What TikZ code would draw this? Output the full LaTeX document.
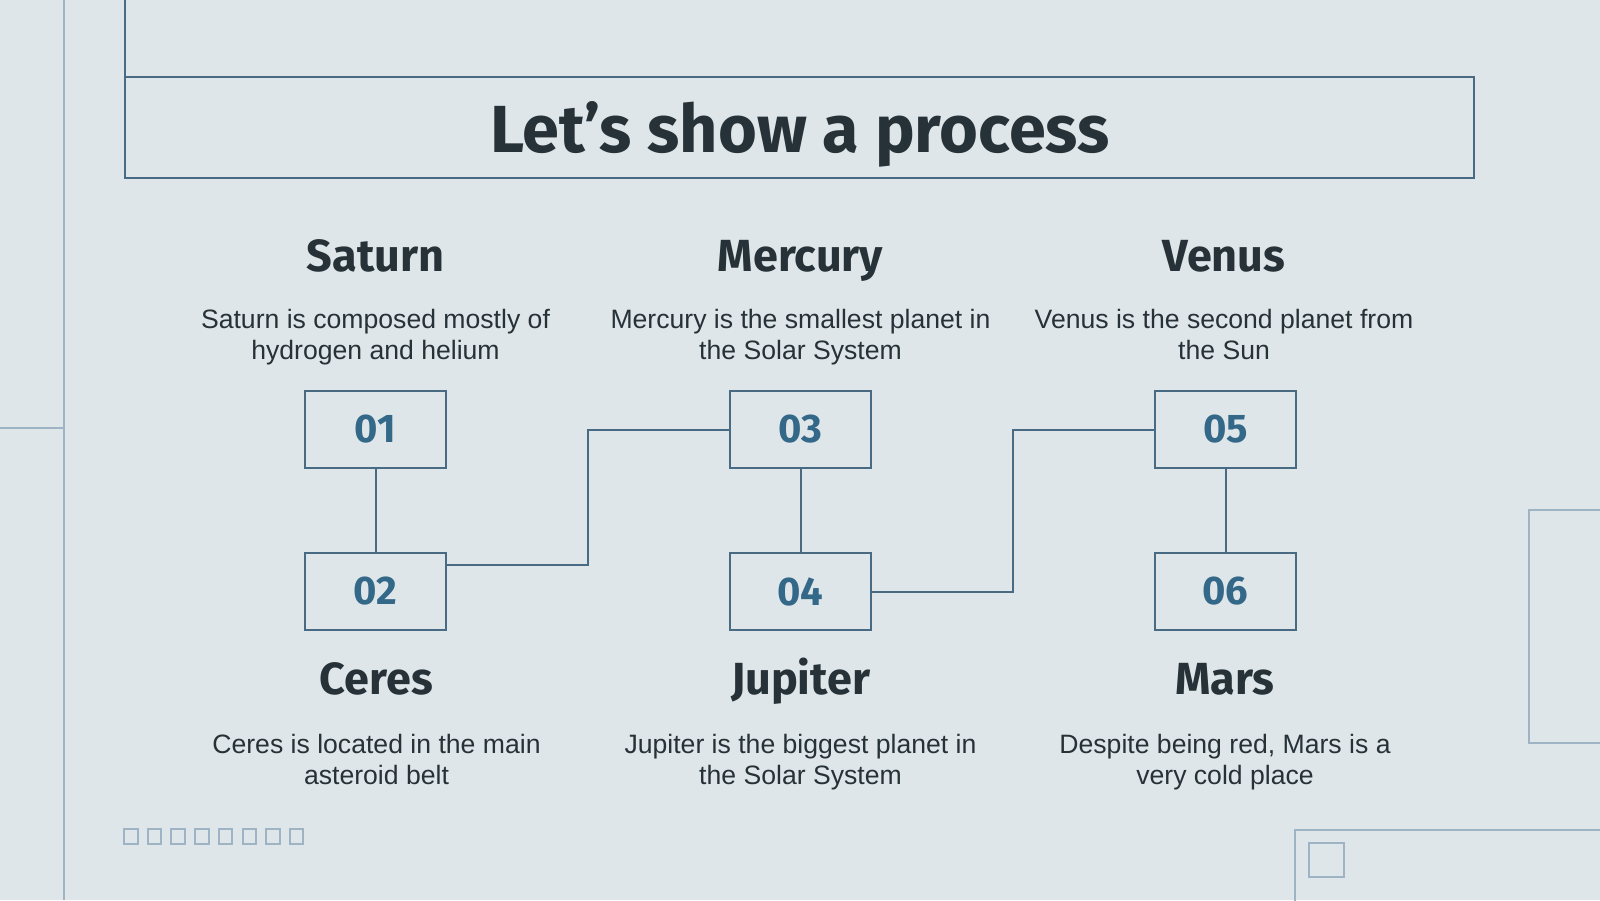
\documentclass[tikz,border=0pt]{standalone}
\usepackage{fontspec}
\setmainfont{Liberation Sans}
\newfontfamily\firafont{Fira Sans}
\usepackage{tikz}
\usetikzlibrary{positioning, calc}
\definecolor{slidebg}{RGB}{223,230,234}
\definecolor{slidedark}{RGB}{38,50,56}
\definecolor{slideline}{RGB}{72,106,130}
\definecolor{slidenum}{RGB}{52,104,136}
\definecolor{slidelight}{RGB}{158,179,195}

\begin{document}
\begin{tikzpicture}[x=0.5pt, y=-0.5pt,
  numbox/.style={draw=slideline, line width=1pt, outer sep=0pt, inner sep=0pt,
    minimum width=70.5pt, minimum height=38.5pt, text=slidenum,
    font=\firafont\bfseries\fontsize{20}{24}\selectfont},
  planetname/.style={anchor=base, text=slidedark,
    font=\firafont\bfseries\fontsize{22.5}{27}\selectfont},
  planetnote/.style={anchor=north, inner sep=0pt, align=center, text=slidedark,
    font=\fontsize{13.3}{15.5}\selectfont},
  linkline/.style={draw=slideline, line width=1pt},
  titlerule/.style={draw=slideline, line width=1pt},
  decoline/.style={draw=slidelight, line width=1pt}]
  % Background
  \useasboundingbox (0,0) rectangle (1600,900);
  \fill[slidebg] (0,0) rectangle (1600,900);
  % Side decorations
  \draw[decoline] (64,0) -- (64,900);
  \draw[decoline] (0,428) -- (64,428);
  \draw[decoline] (1640,510) -- (1529,510) -- (1529,743) -- (1640,743);
  \draw[decoline] (1295,920) -- (1295,830) -- (1640,830);
  \draw[decoline] (1309,843) rectangle (1344,877);
  \foreach \i in {0,...,7}
    \draw[decoline] ({124+23.7*\i},829) rectangle ++(13.5,14.5);
  % Title
  \draw[titlerule] (125,0) -- (125,77);
  \node[titlerule, outer sep=0pt, minimum width=674.5pt, minimum height=50.5pt] (titlebox) at (799.5,127.5) {};
  \node[anchor=base, text=slidedark, font=\firafont\bfseries\fontsize{33.3}{40}\selectfont] (title) at (800,152.3) {Let’s show a process};
  % Step boxes
  \node[numbox] (n01) at (375.5,429.5) {01};
  \node[numbox, below=42.5pt of n01] (n02) {02};
  \node[numbox, right=142pt of n01] (n03) {03};
  \node[numbox, below=42.5pt of n03] (n04) {04};
  \node[numbox, right=142pt of n03] (n05) {05};
  \node[numbox, below=42.5pt of n05] (n06) {06};
  % Connectors
  \draw[linkline] (n01) -- (n02);
  \draw[linkline] (n03) -- (n04);
  \draw[linkline] (n05) -- (n06);
  \draw[linkline] ($(n02.north east)!0.16!(n02.south east)$) -| ($(n02.east)!0.5!(n03.west)$) |- (n03.west);
  \draw[linkline] (n04.east) -| ($(n04.east)!0.5!(n05.west)$) |- (n05.west);
  % Top row labels
  \node[planetname] (saturn) at (375.5,271.7) {Saturn};
  \node[planetnote] (saturntxt) at (375.5,309) {Saturn is composed mostly of\\hydrogen and helium};
  \node[planetname] (mercury) at (800.5,271.7) {Mercury};
  \node[planetnote] (mercurytxt) at (800.5,309) {Mercury is the smallest planet in\\the Solar System};
  \node[planetname] (venus) at (1224,271.7) {Venus};
  \node[planetnote] (venustxt) at (1224,309) {Venus is the second planet from\\the Sun};
  % Bottom row labels
  \node[planetname] (ceres) at (376.5,694) {Ceres};
  \node[planetnote] (cerestxt) at (376.5,734) {Ceres is located in the main\\asteroid belt};
  \node[planetname] (jupiter) at (800.5,694) {Jupiter};
  \node[planetnote] (jupitertxt) at (800.5,734) {Jupiter is the biggest planet in\\the Solar System};
  \node[planetname] (mars) at (1225,694) {Mars};
  \node[planetnote] (marstxt) at (1225,734) {Despite being red, Mars is a\\very cold place};
\end{tikzpicture}
\end{document}
